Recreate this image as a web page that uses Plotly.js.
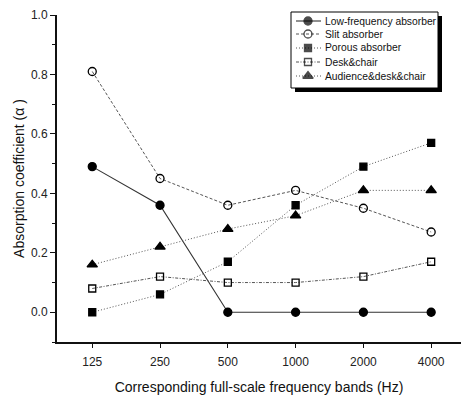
<!DOCTYPE html>
<html>
<head>
<meta charset="utf-8">
<script src="https://cdn.plot.ly/plotly-3.0.1.min.js"></script>
<style>html,body{margin:0;padding:0;background:#fff;}#chart{width:461px;height:398px;}</style>
</head>
<body>
<div id="chart"></div>
<script>
var bands = ["125", "250", "500", "1000", "2000", "4000"];
var lowFrequency = [0.49, 0.36, 0.00, 0.00, 0.00, 0.00];
var slit = [0.81, 0.45, 0.36, 0.41, 0.35, 0.27];
var porous = [0.00, 0.06, 0.17, 0.36, 0.49, 0.57];
var deskChair = [0.08, 0.12, 0.10, 0.10, 0.12, 0.17];
var audience = [0.16, 0.22, 0.28, 0.325, 0.41, 0.41];
var seriesNames = ["Low-frequency absorber", "Slit absorber", "Porous absorber", "Desk&chair", "Audience&desk&chair"];
var seriesValues = [lowFrequency, slit, porous, deskChair, audience];

var styles = [
  {sym: "circle", size: 8, dash: "solid", lw: 1.1, color: "#333"},
  {sym: "circle-open", size: 8, dash: "3px,2px", lw: 1, color: "#555"},
  {sym: "square", size: 7, dash: "1px,2px", lw: 1, color: "#555"},
  {sym: "square-open", size: 7, dash: "3px,1.5px,1px,1.5px", lw: 1, color: "#555"},
  {sym: "triangle-up", size: 9, dash: "1px,2px", lw: 1, color: "#555"}
];

// plot area in page pixels
var L = 57, R = 461, T = 15, B = 342;
function px(x) { return (x - L) / (R - L); }
function py(y) { return (B - y) / (B - T); }

var data = [];
seriesValues.forEach(function (vals, i) {
  var s = styles[i];
  data.push({
    type: "scatter", mode: "lines+markers", name: seriesNames[i], x: bands, y: vals,
    showlegend: false,
    line: {color: s.color, width: s.lw, dash: s.dash},
    marker: {symbol: s.sym, size: s.size, color: "#000", line: {color: "#000", width: 1.3}}
  });
});

// hand-made legend (box with drop shadow, like the original)
var legRows = [21, 34, 48, 62, 76];
var annotations = [];
seriesNames.forEach(function (name, i) {
  var s = styles[i];
  data.push({
    type: "scatter", mode: "lines+markers", xaxis: "x2", yaxis: "y2", showlegend: false,
    x: [296, 308, 321], y: [legRows[i], legRows[i], legRows[i]],
    line: {color: s.color, width: s.lw, dash: s.dash},
    marker: {symbol: s.sym, size: [0, s.size, 0], color: "#000", line: {color: "#000", width: [0, 1.3, 0]}}
  });
  annotations.push({
    xref: "paper", yref: "paper", x: px(323), y: py(legRows[i]),
    xanchor: "left", yanchor: "middle", showarrow: false, text: name,
    font: {family: "Liberation Sans, Arial, sans-serif", size: 10.3, color: "#111"}
  });
});

var font = "Liberation Sans, Arial, sans-serif";
var layout = {
  width: 461, height: 398,
  margin: {l: L, r: 461 - R, t: T, b: 398 - B},
  paper_bgcolor: "#fff", plot_bgcolor: "#fff",
  font: {family: font, color: "#222", size: 12},
  showlegend: false,
  xaxis: {
    type: "category", range: [-0.52, 5.44],
    showline: true, linecolor: "#111", linewidth: 2,
    ticks: "outside", ticklen: 4, tickcolor: "#111", tickwidth: 1,
    ticklabelstandoff: 4,
    showgrid: false, zeroline: false,
    tickfont: {family: font, size: 12, color: "#222"},
    title: {text: "Corresponding full-scale frequency bands (Hz)", font: {family: font, size: 14, color: "#111"}, standoff: 14}
  },
  yaxis: {
    range: [-0.1, 1.0], tickvals: [0, 0.2, 0.4, 0.6, 0.8, 1.0], ticktext: ["0.0","0.2","0.4","0.6","0.8","1.0"],
    showline: true, linecolor: "#111", linewidth: 2,
    ticks: "outside", ticklen: 5, tickcolor: "#111", tickwidth: 1,
    minor: {dtick: 0.1, tick0: 0, ticks: "outside", ticklen: 3, tickcolor: "#111"},
    showgrid: false, zeroline: false,
    tickfont: {family: font, size: 12, color: "#222"},
    title: {text: "Absorption coefficient (α )", font: {family: font, size: 14, color: "#111"}, standoff: 3}
  },
  xaxis2: {overlaying: "x", range: [L, R], visible: false, fixedrange: true},
  yaxis2: {overlaying: "y", range: [B, T], visible: false, fixedrange: true},
  annotations: annotations,
  shapes: [
    {type: "rect", xref: "paper", yref: "paper", x0: px(295), x1: px(442), y0: py(92), y1: py(16),
     fillcolor: "#000", line: {width: 0}, layer: "below"},
    {type: "rect", xref: "paper", yref: "paper", x0: px(291), x1: px(438), y0: py(88), y1: py(12),
     fillcolor: "#fff", line: {color: "#000", width: 1}, layer: "below"}
  ]
};
Plotly.newPlot("chart", data, layout, {displayModeBar: false, staticPlot: true});
</script>
</body>
</html>
